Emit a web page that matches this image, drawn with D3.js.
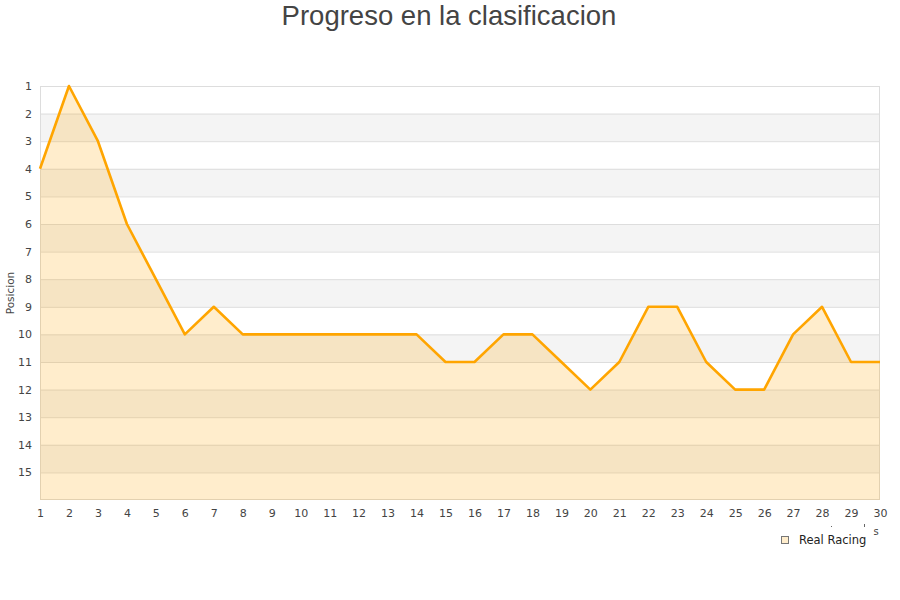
<!DOCTYPE html>
<html><head><meta charset="utf-8">
<script src="https://cdn.jsdelivr.net/npm/d3@7"></script>
<style>body{margin:0;background:#fff;}svg{display:block;}</style>
</head><body>
<svg id="c" width="900" height="600"></svg>
<script>
const title = "Progreso en la clasificacion";
const yTitle = "Posicion";
const seriesName = "Real Racing";
const jornadas = d3.range(1, 31);
const posiciones = [4,1,3,6,8,10,9,10,10,10,10,10,10,10,11,11,10,10,11,12,11,9,9,11,12,12,10,9,11,11];
const yTicks = d3.range(1, 16);

const svg = d3.select("#c");
const L = 40, R = 880, T = 86, B = 500;
const x = d3.scaleLinear().domain([1, 30]).range([L, R]);
const y = d3.scaleLinear().domain([1, 16]).range([T, B]);

svg.append("g").selectAll("rect").data(yTicks.filter(d => d % 2 === 0)).join("rect")
  .attr("x", L).attr("width", R - L)
  .attr("y", d => y(d)).attr("height", d => y(d + 1) - y(d))
  .attr("fill", "#f4f4f4");

svg.append("g").selectAll("line").data(yTicks.slice(1)).join("line")
  .attr("x1", L).attr("x2", R)
  .attr("y1", d => y(d) + 0.5).attr("y2", d => y(d) + 0.5)
  .attr("stroke", "#dddddd").attr("stroke-width", 1);

svg.append("rect").attr("x", L + 0.5).attr("y", T + 0.5)
  .attr("width", R - L - 1).attr("height", B - T - 1)
  .attr("fill", "none").attr("stroke", "#dddddd");

const data = jornadas.map((j, i) => ({j, p: posiciones[i]}));

svg.append("path").datum(data)
  .attr("d", d3.area().x(d => x(d.j)).y0(y(16)).y1(d => y(d.p)))
  .attr("fill", "#ffa500").attr("fill-opacity", 0.2);

svg.append("path").datum(data)
  .attr("d", d3.line().x(d => x(d.j)).y(d => y(d.p)))
  .attr("fill", "none").attr("stroke", "#ffa500").attr("stroke-width", 2.6)
  .attr("stroke-linejoin", "round");

const yAxis = svg.append("g").attr("transform", `translate(${L},0)`)
  .call(d3.axisLeft(y).tickValues(yTicks).tickSize(0).tickPadding(8).tickFormat(d3.format("d")));
yAxis.select(".domain").remove();
yAxis.selectAll("text").attr("font-family", "DejaVu Sans").attr("font-size", 11).attr("fill", "#444");

const xAxis = svg.append("g").attr("transform", `translate(0,${B})`)
  .call(d3.axisBottom(x).tickValues(jornadas).tickSize(0).tickPadding(9).tickFormat(d3.format("d")));
xAxis.select(".domain").remove();
xAxis.selectAll("text").attr("font-family", "DejaVu Sans").attr("font-size", 11).attr("fill", "#444");

svg.append("text").attr("x", 449).attr("y", 25).attr("text-anchor", "middle")
  .attr("font-family", "Liberation Sans, Arial, sans-serif").attr("font-size", 27.5).attr("fill", "#444")
  .text(title);

svg.append("text").attr("transform", "translate(14,293) rotate(-90)").attr("text-anchor", "middle")
  .attr("font-family", "DejaVu Sans").attr("font-size", 10.5).attr("fill", "#444").text(yTitle);

svg.append("text").attr("x", 876).attr("y", 535).attr("text-anchor", "middle")
  .attr("font-family", "DejaVu Sans").attr("font-size", 10).attr("fill", "#444").text("s");
svg.append("rect").attr("x", 831).attr("y", 526).attr("width", 1).attr("height", 1).attr("fill", "#666");
svg.append("rect").attr("x", 864).attr("y", 524).attr("width", 1).attr("height", 3).attr("fill", "#666");

svg.append("rect").attr("x", 781.5).attr("y", 536.5).attr("width", 7).attr("height", 7)
  .attr("fill", "#ffedcc").attr("stroke", "#777");
svg.append("text").attr("x", 799).attr("y", 544)
  .attr("font-family", "DejaVu Sans").attr("font-size", 11.5).attr("fill", "#222").text(seriesName);
</script>
</body></html>
